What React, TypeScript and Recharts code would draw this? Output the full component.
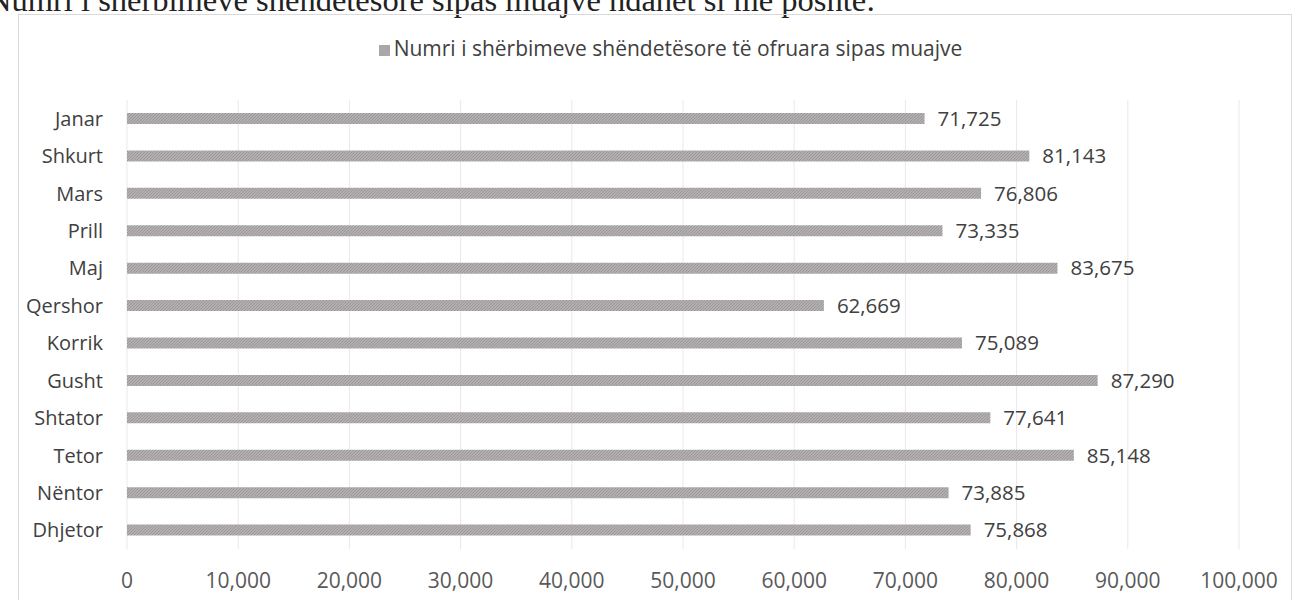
import { Bar, BarChart, CartesianGrid, LabelList, Legend, XAxis, YAxis } from "recharts";

const months = [
  "Janar",
  "Shkurt",
  "Mars",
  "Prill",
  "Maj",
  "Qershor",
  "Korrik",
  "Gusht",
  "Shtator",
  "Tetor",
  "Nëntor",
  "Dhjetor"
];

const services = [71725, 81143, 76806, 73335, 83675, 62669, 75089, 87290, 77641, 85148, 73885, 75868];

const xTicks = [0, 10000, 20000, 30000, 40000, 50000, 60000, 70000, 80000, 90000, 100000];

const seriesName = "Numri i shërbimeve shëndetësore të ofruara sipas muajve";

const rows = months.map((month, i) => ({ month, value: services[i] }));

const fmt = (v: number) => v.toLocaleString("en-US");

const FONT = "'Open Sans', sans-serif";

export default function App() {
  return (
    <div
      style={{
        position: "absolute",
        left: 0,
        top: 0,
        width: 1299,
        height: 600,
        overflow: "hidden",
        background: "#fff"
      }}
    >
      {/* line of page text above the chart, cut by the crop */}
      <div
        style={{
          position: "absolute",
          left: -12,
          top: -16,
          fontFamily: "'Liberation Serif', serif",
          fontSize: 32.5,
          lineHeight: "32px",
          color: "#222",
          whiteSpace: "nowrap"
        }}
      >
        Numri i shërbimeve shëndetësore sipas muajve ndahet si më poshtë:
      </div>
      <div
        style={{
          position: "absolute",
          left: 18,
          top: 14,
          width: 1272,
          height: 620,
          border: "1px solid #d9d9d9"
        }}
      />
      <div style={{ position: "absolute", left: 0, top: 0 }}>
        <BarChart
          width={1299}
          height={600}
          data={rows}
          layout="vertical"
          barSize={11}
          margin={{ top: 35, right: 60, bottom: 21, left: 20 }}
        >
          <defs>
            <pattern id="hatch" width="3" height="3" patternUnits="userSpaceOnUse">
              <rect width="3" height="3" fill="#b3afb1" />
              <path d="M0,3 L3,0" stroke="#9c989a" strokeWidth="1" />
            </pattern>
          </defs>
          <CartesianGrid horizontal={false} stroke="#ece7e9" />
          <XAxis
            type="number"
            domain={[0, 100000]}
            ticks={xTicks}
            tickFormatter={fmt}
            axisLine={false}
            tickLine={false}
            tickMargin={18}
            interval={0}
            tick={{ fill: "#595959", fontSize: 21, fontFamily: FONT }}
          />
          <YAxis
            type="category"
            dataKey="month"
            width={107}
            axisLine={false}
            tickLine={false}
            tickMargin={18}
            interval={0}
            tick={{ fill: "#404040", fontSize: 20, fontFamily: FONT }}
          />
          <Legend
            verticalAlign="top"
            align="center"
            iconType="square"
            iconSize={11}
            wrapperStyle={{ top: 34, left: 66, height: 65, fontFamily: FONT, fontSize: 21 }}
            formatter={(v) => <span style={{ color: "#404040" }}>{v}</span>}
          />
          <Bar dataKey="value" name={seriesName} fill="url(#hatch)" legendType="square" isAnimationActive={false}>
            <LabelList
              dataKey="value"
              position="right"
              offset={13}
              formatter={(v: number) => fmt(v)}
              style={{ fill: "#404040", fontSize: 20.5, fontFamily: FONT }}
            />
          </Bar>
        </BarChart>
      </div>
    </div>
  );
}
